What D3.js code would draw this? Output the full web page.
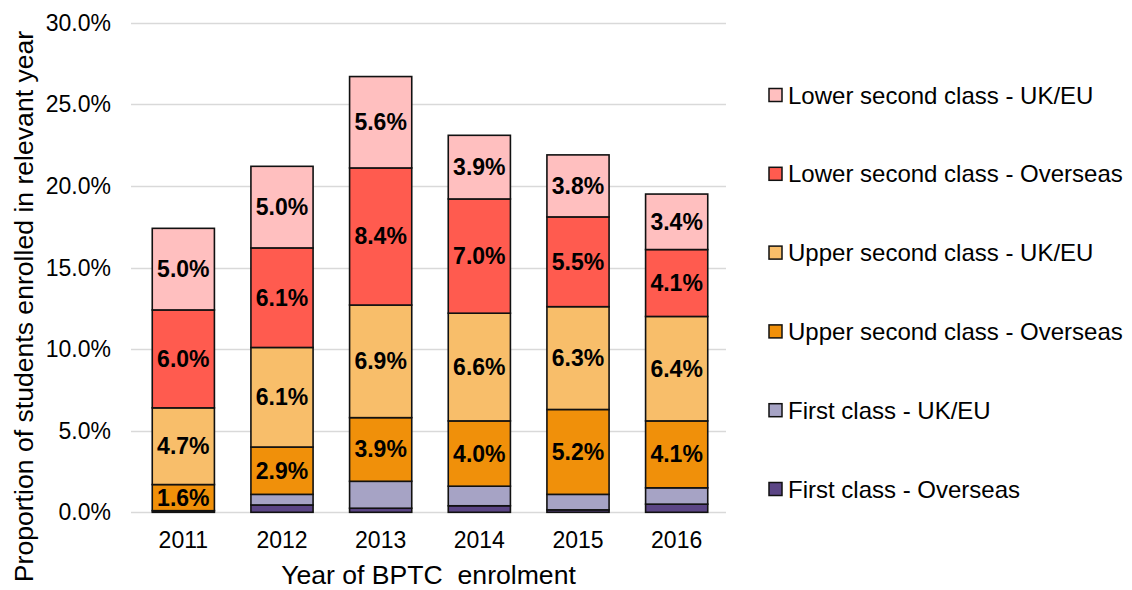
<!DOCTYPE html>
<html><head><meta charset="utf-8">
<script src="https://cdn.jsdelivr.net/npm/d3@7"></script>
<style>
html,body{margin:0;padding:0;background:#fff;}
svg{display:block;font-family:"Liberation Sans",Arial,sans-serif;}
</style></head>
<body><svg id="chart" width="1132" height="590"></svg>
<script>
const years = ["2011","2012","2013","2014","2015","2016"];
const seriesNames = ["First class - Overseas","First class - UK/EU","Upper second class - Overseas","Upper second class - UK/EU","Lower second class - Overseas","Lower second class - UK/EU"];
const seriesColors = ["#5B4585","#A6A3C5","#F0900A","#F8BE6A","#FF5B4F","#FFBFBF"];
const firstOverseas = [0.0, 0.45, 0.25, 0.4, 0.15, 0.5];
const firstUKEU     = [0.1, 0.65, 1.65, 1.2, 0.95, 1.0];
const upperOverseas = [1.6, 2.9, 3.9, 4.0, 5.2, 4.1];
const upperUKEU     = [4.7, 6.1, 6.9, 6.6, 6.3, 6.4];
const lowerOverseas = [6.0, 6.1, 8.4, 7.0, 5.5, 4.1];
const lowerUKEU     = [5.0, 5.0, 5.6, 3.9, 3.8, 3.4];
const labelledSeries = [false, false, true, true, true, true];
const yTicks = [0, 5, 10, 15, 20, 25, 30];
const xTitle = "Year of BPTC  enrolment";
const yTitle = "Proportion of students enrolled in relevant year";

const seriesValues = [firstOverseas, firstUKEU, upperOverseas, upperUKEU, lowerOverseas, lowerUKEU];
const table = years.map((y, i) => {
  const row = {year: y};
  seriesNames.forEach((s, k) => row[s] = seriesValues[k][i]);
  return row;
});

const svg = d3.select("#chart");
const x = d3.scaleBand().domain(years).range([134, 726]).paddingInner(0.37).paddingOuter(0.185);
const y = d3.scaleLinear().domain([0, 30]).range([512.3, 22.7]);

// gridlines
svg.append("g").selectAll("line").data(yTicks).join("line")
  .attr("x1", 131).attr("x2", 726)
  .attr("y1", d => Math.round(y(d)) + 0.5).attr("y2", d => Math.round(y(d)) + 0.5)
  .attr("stroke", "#d9d9d9").attr("stroke-width", 1.3);

// y tick labels
svg.append("g").selectAll("text").data(yTicks).join("text")
  .attr("x", 111).attr("y", d => y(d))
  .attr("text-anchor", "end").attr("dominant-baseline", "central")
  .attr("font-size", 23).attr("fill", "#000")
  .text(d => d3.format(".1f")(d) + "%");

// x tick labels
svg.append("g").selectAll("text").data(years).join("text")
  .attr("x", d => x(d) + x.bandwidth() / 2).attr("y", 540)
  .attr("text-anchor", "middle").attr("dominant-baseline", "central")
  .attr("font-size", 23).attr("fill", "#000")
  .text(d => d);

const stack = d3.stack().keys(seriesNames)(table);

const layers = svg.append("g").selectAll("g").data(stack).join("g")
  .attr("fill", (d, i) => seriesColors[i]);
layers.selectAll("rect").data(d => d).join("rect")
  .attr("x", d => x(d.data.year))
  .attr("width", x.bandwidth())
  .attr("y", d => y(d[1]))
  .attr("height", d => Math.max(0, y(d[0]) - y(d[1])))
  .attr("stroke", "#111").attr("stroke-width", 1.6);

// data labels
stack.forEach((layer, i) => {
  if (!labelledSeries[i]) return;
  svg.append("g").selectAll("text").data(layer).join("text")
    .attr("x", d => x(d.data.year) + x.bandwidth() / 2)
    .attr("y", d => (y(d[0]) + y(d[1])) / 2)
    .attr("text-anchor", "middle").attr("dominant-baseline", "central")
    .attr("font-size", 23).attr("font-weight", "bold").attr("fill", "#000")
    .text(d => d3.format(".1f")(d[1] - d[0]) + "%");
});

// axis titles
svg.append("text").attr("x", 428.5).attr("y", 584)
  .attr("text-anchor", "middle")
  .attr("xml:space", "preserve").style("white-space", "pre")
  .attr("font-size", 26.6).attr("fill", "#000").text(xTitle);
svg.append("text").attr("transform", "translate(24,306.5) rotate(-90)")
  .attr("text-anchor", "middle").attr("dominant-baseline", "central")
  .attr("font-size", 26.6).attr("fill", "#000").text(yTitle);

// legend
const legendOrder = seriesNames.map((s, i) => i).reverse();
const lg = svg.append("g").selectAll("g").data(legendOrder).join("g")
  .attr("transform", (d, j) => `translate(769,${95 + j * 78.8})`);
lg.append("rect").attr("x", 0).attr("y", -6.5).attr("width", 13).attr("height", 13)
  .attr("fill", d => seriesColors[d]).attr("stroke", "#111").attr("stroke-width", 1.5);
lg.append("text").attr("x", 19).attr("y", 0).attr("dominant-baseline", "central")
  .attr("font-size", 24).attr("fill", "#000").text(d => seriesNames[d]);
</script></body></html>
